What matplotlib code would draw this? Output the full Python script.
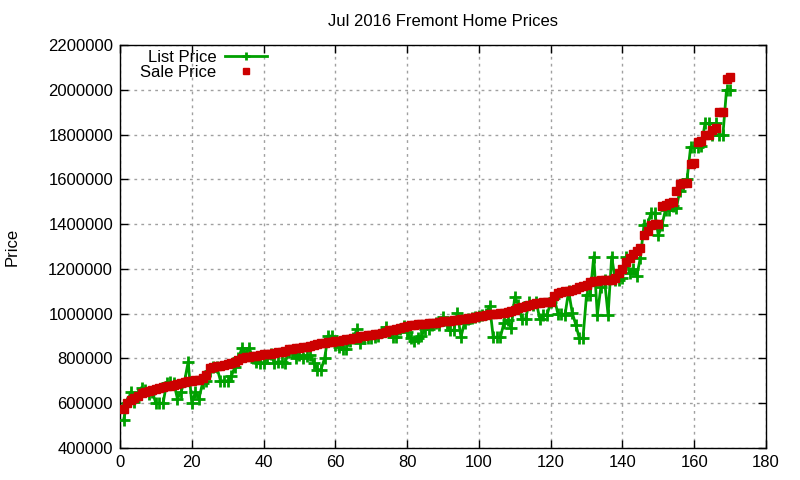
import numpy as np
import matplotlib
matplotlib.use("Agg")
import matplotlib.pyplot as plt

# sale prices, sorted ascending (one per home sold)
sale_price = [
    575000, 600000, 615000, 625000, 630000, 645000, 650000, 655000, 660000, 665000,
    670000, 672000, 675000, 678000, 680000, 685000, 690000, 695000, 698000, 700000,
    702000, 705000, 712000, 725000, 758000, 762000, 765000, 768000, 770000, 775000,
    778000, 785000, 795000, 800000, 805000, 808000, 810000, 812000, 815000, 818000,
    820000, 822000, 825000, 828000, 830000, 835000, 840000, 842000, 845000, 848000,
    850000, 852000, 855000, 860000, 865000, 868000, 870000, 872000, 875000, 878000,
    880000, 882000, 885000, 888000, 890000, 893000, 898000, 900000, 903000, 905000,
    908000, 910000, 915000, 920000, 925000, 928000, 930000, 935000, 940000, 945000,
    948000, 950000, 952000, 953000, 955000, 957000, 958000, 960000, 962000, 965000,
    966000, 968000, 970000, 972000, 975000, 978000, 980000, 982000, 985000, 988000,
    990000, 995000, 998000, 1000000, 1000000, 1002000, 1005000, 1008000, 1010000, 1015000,
    1025000, 1030000, 1035000, 1040000, 1045000, 1048000, 1048000, 1050000, 1050000, 1050000,
    1080000, 1090000, 1095000, 1100000, 1100000, 1105000, 1110000, 1120000, 1125000, 1130000,
    1140000, 1145000, 1148000, 1150000, 1150000, 1150000, 1150000, 1160000, 1180000, 1200000,
    1230000, 1250000, 1265000, 1280000, 1295000, 1350000, 1370000, 1395000, 1400000, 1400000,
    1480000, 1485000, 1495000, 1500000, 1550000, 1580000, 1585000, 1585000, 1670000, 1675000,
    1765000, 1770000, 1800000, 1800000, 1820000, 1830000, 1900000, 1900000, 2050000, 2055000,
]

# asking prices for the same homes
list_price = [
    525000, 600000, 650000, 605000, 640000, 670000, 660000, 640000, 650000, 600000,
    600000, 600000, 690000, 695000, 690000, 620000, 650000, 700000, 785000, 600000,
    650000, 620000, 690000, 700000, 745000, 760000, 760000, 700000, 700000, 700000,
    720000, 760000, 800000, 848000, 820000, 848000, 800000, 785000, 780000, 780000,
    800000, 820000, 780000, 785000, 785000, 780000, 830000, 830000, 800000, 815000,
    800000, 810000, 815000, 780000, 750000, 750000, 800000, 900000, 900000, 860000,
    850000, 840000, 840000, 880000, 890000, 930000, 870000, 890000, 890000, 890000,
    895000, 900000, 920000, 940000, 920000, 895000, 895000, 930000, 945000, 920000,
    890000, 880000, 890000, 900000, 930000, 930000, 950000, 960000, 950000, 985000,
    960000, 925000, 925000, 1004000, 895000, 960000, 975000, 980000, 985000, 990000,
    995000, 1000000, 1034000, 895000, 895000, 895000, 960000, 970000, 935000, 1075000,
    1040000, 975000, 975000, 1050000, 1040000, 1050000, 975000, 995000, 995000, 1050000,
    1070000, 1000000, 1000000, 995000, 1100000, 1005000, 950000, 890000, 890000, 1085000,
    1085000, 1255000, 995000, 1120000, 1150000, 995000, 1255000, 1150000, 1150000, 1160000,
    1255000, 1180000, 1200000, 1170000, 1250000, 1395000, 1400000, 1450000, 1450000, 1350000,
    1395000, 1465000, 1465000, 1480000, 1470000, 1550000, 1580000, 1600000, 1745000, 1745000,
    1745000, 1750000, 1850000, 1850000, 1800000, 1850000, 1797000, 1800000, 2000000, 2000000,
]

x_ticks = list(range(0, 181, 20))
y_ticks = list(range(400000, 2200001, 200000))

homes = np.arange(1, len(sale_price) + 1)

plt.rcParams['font.family'] = ['Liberation Sans', 'DejaVu Sans']
plt.rcParams['font.size'] = 12

fig = plt.figure(figsize=(8, 4.8), dpi=100)
ax = fig.add_axes([0.15, 0.0667, 0.8075, 0.8396])

ax.plot(homes, list_price, color='#00a000', lw=2, marker='+', ms=8, mew=2,
        label='List Price', zorder=3)
ax.plot(homes, sale_price, color='#cc0000', ls='none', marker='s', ms=6,
        label='Sale Price', zorder=4)

ax.set_xlim(0, 180)
ax.set_ylim(400000, 2200000)
ax.set_xticks(x_ticks)
ax.set_yticks(y_ticks)
ax.set_yticklabels([str(v) for v in y_ticks])
ax.tick_params(direction='in', length=6, width=1, top=True, right=True, pad=5)
ax.grid(True, color='#a0a0a0', ls=(0, (2, 3)), lw=1)
ax.set_axisbelow(True)
for s in ax.spines.values():
    s.set_linewidth(1)

ax.set_title('Jul 2016 Fremont Home Prices', fontsize=12, pad=14)
ax.set_ylabel('Price')
ax.yaxis.set_label_coords(-0.155, 0.5)

leg = ax.legend(loc='upper right', bbox_to_anchor=(0.232, 0.995), frameon=False,
                markerfirst=False, handlelength=2.5, handletextpad=0.5,
                labelspacing=0.0, borderaxespad=0.0, borderpad=0.2)
for t in leg.get_texts():
    t.set_ha('right')
leg._legend_box.align = 'right'
leg.legend_handles[0].set_markersize(6)
leg.legend_handles[1].set_markersize(5)

fig.savefig('out.png', dpi=100)
